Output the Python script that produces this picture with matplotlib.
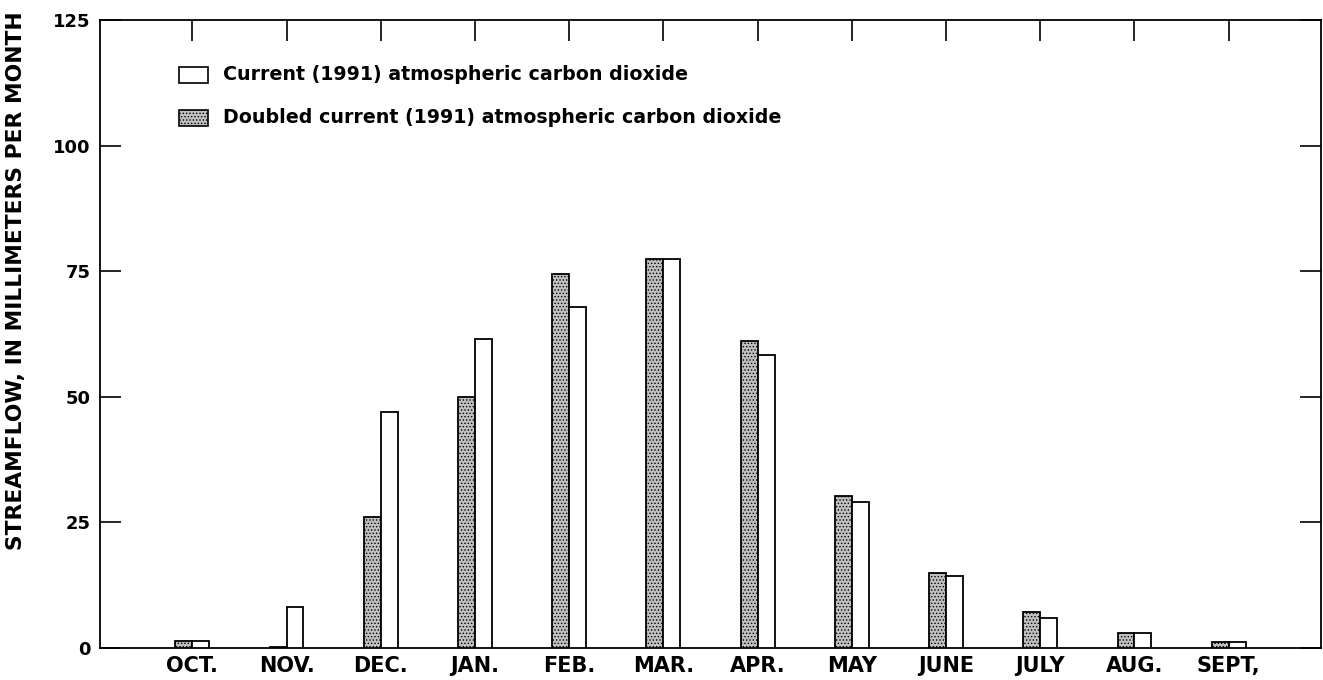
import matplotlib
matplotlib.use("Agg")
import matplotlib.pyplot as plt
from matplotlib.patches import Rectangle
import numpy as np

months = ["OCT.", "NOV.", "DEC.", "JAN.", "FEB.", "MAR.", "APR.", "MAY", "JUNE", "JULY", "AUG.", "SEPT,"]
current = [1.4, 8.2, 47.0, 61.6, 67.8, 77.5, 58.3, 29.0, 14.3, 6.0, 3.0, 1.2]
doubled = [1.4, 0.2, 26.0, 49.9, 74.5, 77.5, 61.2, 30.3, 14.9, 7.2, 3.0, 1.2]
yticks = [0, 25, 50, 75, 100, 125]
label_current = "Current (1991) atmospheric carbon dioxide"
label_doubled = "Doubled current (1991) atmospheric carbon dioxide"
ylabel = "STREAMFLOW, IN MILLIMETERS PER MONTH"

plt.rcParams['font.family'] = ['DejaVu Sans']
plt.rcParams['font.weight'] = 'bold'
plt.rcParams['hatch.color'] = '#555555'
plt.rcParams['hatch.linewidth'] = 0.6

W, H = 1323, 680
fig = plt.figure(figsize=(W / 100, H / 100), dpi=100)
L, R, T, B = 100, 1321, 20, 648
ax = fig.add_axes([L / W, (H - B) / H, (R - L) / W, (B - T) / H])

x = np.arange(len(months))
bw = 0.18
gray = '#c0c0c0'
ax.bar(x - bw / 2, doubled, width=bw, facecolor=gray, edgecolor='black',
       linewidth=1.3, hatch='.....', zorder=3)
ax.bar(x + bw / 2, current, width=bw, facecolor='white', edgecolor='black',
       linewidth=1.3, zorder=3)

ax.set_xlim(-0.98, 11.98)
ax.set_ylim(0, 125)
ax.set_xticks(x)
ax.set_xticklabels(months, fontsize=15, fontweight='bold')
ax.set_yticks(yticks)
ax.set_yticklabels([str(v) for v in yticks], fontsize=13, fontweight='bold')
ax.tick_params(axis='x', top=True, bottom=False, direction='in', length=15,
               width=1.2, pad=6, labeltop=False, labelbottom=True)
ax.tick_params(axis='y', left=True, right=True, direction='in', length=15,
               width=1.2, pad=7, labelright=False)
for s in ax.spines.values():
    s.set_linewidth(1.3)

ax.set_ylabel(ylabel, fontsize=15.7, fontweight='bold')
ax.yaxis.set_label_coords(-(L - 26) / (R - L), (B - 281) / (B - T))

# legend (manual)
def ax_x(px):
    return (px - L) / (R - L)

def ax_y(py):
    return (B - py) / (B - T)

bx0, bx1 = 179, 208
rows = [(67, 83, 'white', None, label_current),
        (110, 126, gray, '.....', label_doubled)]
for top, bot, fc, hatch, lab in rows:
    ax.add_patch(Rectangle((ax_x(bx0), ax_y(bot)), ax_x(bx1) - ax_x(bx0),
                           ax_y(top) - ax_y(bot), transform=ax.transAxes,
                           facecolor=fc, edgecolor='black', linewidth=1.2,
                           hatch=hatch, clip_on=False, zorder=4))
    ax.text(ax_x(223), ax_y((top + bot) / 2), lab, transform=ax.transAxes,
            fontsize=13.7, fontweight='bold', va='center', ha='left')

fig.savefig("out.png", dpi=100)
